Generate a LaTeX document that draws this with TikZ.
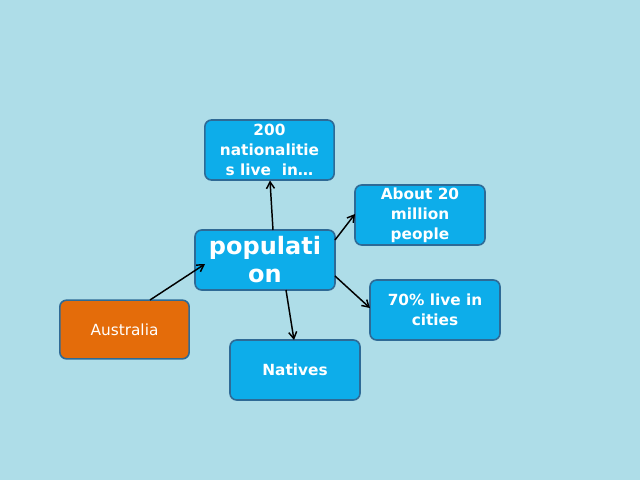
\documentclass[tikz,border=0pt]{standalone}
\usepackage{fontspec}
\setmainfont{DejaVu Sans}
\usetikzlibrary{arrows.meta}
\definecolor{bgc}{HTML}{AEDDE8}
\definecolor{boxc}{HTML}{0DADEA}
\definecolor{edgec}{HTML}{2E6A96}
\definecolor{orangec}{HTML}{E46C0A}
\tikzset{
  px/.style={x=0.75pt,y=-0.75pt},
  bluebox/.style={draw=edgec, line width=1.2pt, fill=boxc, rounded corners=5pt,
    text=white, align=center, inner sep=0pt, font=\bfseries\fontsize{11.5}{15}\selectfont},
  orangebox/.style={draw=edgec, line width=1.2pt, fill=orangec, rounded corners=5pt,
    text=white, align=center, inner sep=0pt, font=\fontsize{11.5}{15}\selectfont},
  conn/.style={line width=1.1pt, -{Straight Barb[length=5pt,width=6pt]}}
}
\begin{document}
\begin{tikzpicture}[px]
\fill[bgc] (0,0) rectangle (640,480);
\useasboundingbox (0,0) rectangle (640,480);
\node[bluebox, minimum width=97pt, minimum height=45pt] (nat) at (269.5,150) {200\\nationalitie\\s live~~in…};
\node[bluebox, minimum width=97.5pt, minimum height=45pt] (mil) at (420,215) {About 20\\million\\people};
\node[bluebox, minimum width=105pt, minimum height=45pt, font=\bfseries\fontsize{18}{21}\selectfont] (pop) at (265,260) {populati\\on};
\node[bluebox, minimum width=97.5pt, minimum height=45pt] (cit) at (435,310) {70\% live in\\cities};
\node[orangebox, minimum width=97pt, minimum height=44pt] (aus) at (124.5,329.5) {Australia};
\node[bluebox, minimum width=97.5pt, minimum height=45pt] (ntv) at (295,370) {Natives};
\draw[conn] (273,230) -- (270,180.5);
\draw[conn] (335,240) -- (355,214);
\draw[conn] (335,276) -- (370,308);
\draw[conn] (286,290) -- (294,340);
\draw[conn] (150,300) -- (205,264);
\end{tikzpicture}
\end{document}
